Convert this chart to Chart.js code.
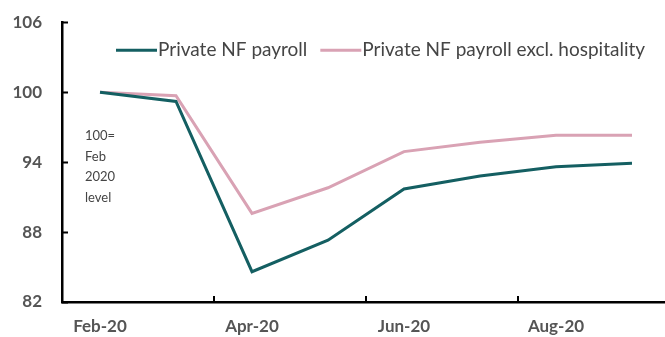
<!DOCTYPE html>
<html>
<head>
<meta charset="utf-8">
<script src="https://cdn.jsdelivr.net/npm/chart.js@4"></script>
<style>
  html, body { margin: 0; padding: 0; background: #fff; overflow: hidden; }
  #wrap { position: relative; width: 670px; height: 337px; }
</style>
</head>
<body>
<div id="wrap"><canvas id="payrollChart" width="670" height="337"></canvas></div>
<script>
// months on the x axis
var months = ['Feb-20', 'Mar-20', 'Apr-20', 'May-20', 'Jun-20', 'Jul-20', 'Aug-20', 'Sep-20'];
// index, 100 = Feb 2020 level
var privatePayroll = [100, 99.2, 84.6, 87.3, 91.7, 92.8, 93.6, 93.9];
var payrollExHospitality = [100, 99.7, 89.6, 91.8, 94.9, 95.7, 96.3, 96.3];
var yTicks = [82, 88, 94, 100, 106];

var textGrey = '#555555';
var font = 'Lato';

// short tick marks on the inside of both axes, the legend row inside the plot, and the note on the left
var axisMarks = {
    id: 'axisMarks',
    afterDraw: function (chart) {
        var ctx = chart.ctx;
        var area = chart.chartArea;
        var x = chart.scales.x;
        var y = chart.scales.y;
        ctx.save();
        ctx.strokeStyle = '#000';
        ctx.lineWidth = 2;
        ctx.beginPath();
        yTicks.forEach(function (v) {
            var py = Math.round(y.getPixelForValue(v)) + 0.5;
            ctx.moveTo(area.left, py);
            ctx.lineTo(area.left + 6, py);
        });
        for (var i = 2; i < months.length; i += 2) {
            var px = (x.getPixelForValue(i - 1) + x.getPixelForValue(i)) / 2;
            ctx.moveTo(px, area.bottom);
            ctx.lineTo(px, area.bottom - 6);
        }
        ctx.stroke();

        // legend
        ctx.font = '19px ' + font;
        ctx.textBaseline = 'middle';
        var lx = area.left + 54;
        var ly = area.top + 28;
        chart.data.datasets.forEach(function (ds) {
            ctx.strokeStyle = ds.borderColor;
            ctx.lineWidth = 3;
            ctx.beginPath();
            ctx.moveTo(lx, ly);
            ctx.lineTo(lx + 41, ly);
            ctx.stroke();
            lx += 42;
            ctx.fillStyle = '#454545';
            ctx.fillText(ds.label, lx, ly);
            lx += ctx.measureText(ds.label).width + 13;
        });

        ctx.fillStyle = '#454545';
        ctx.font = '13px ' + font;
        ['100=', 'Feb', '2020', 'level'].forEach(function (line, k) {
            ctx.fillText(line, area.left + 23, area.top + 114 + k * 20.5);
        });
        ctx.restore();
    }
};

var ctx = document.getElementById('payrollChart').getContext('2d');
new Chart(ctx, {
    type: 'line',
    data: {
        labels: months,
        datasets: [{
            label: 'Private NF payroll',
            data: privatePayroll,
            borderColor: '#145f62',
            borderWidth: 3,
            pointRadius: 0,
            tension: 0
        }, {
            label: 'Private NF payroll excl. hospitality',
            data: payrollExHospitality,
            borderColor: '#d9a2b4',
            borderWidth: 3,
            pointRadius: 0,
            tension: 0
        }]
    },
    options: {
        responsive: false,
        animation: false,
        layout: { padding: { top: 10, right: 0, bottom: 0, left: 0 } },
        plugins: {
            tooltip: { enabled: false },
            legend: { display: false }
        },
        scales: {
            x: {
                type: 'category',
                offset: true,
                grid: { display: false },
                border: { display: true, color: '#000', width: 2.5 },
                afterFit: function (scale) { scale.height = 35; },
                ticks: {
                    autoSkip: false,
                    maxRotation: 0,
                    padding: 6,
                    color: textGrey,
                    font: { family: font, size: 17, weight: 'bold' },
                    callback: function (value, index) {
                        return index % 2 === 0 ? months[index] : '';
                    }
                }
            },
            y: {
                min: 82,
                max: 106,
                grid: { display: false },
                border: { display: true, color: '#000', width: 2.5 },
                afterFit: function (scale) { scale.width = 62; },
                afterBuildTicks: function (scale) {
                    scale.ticks = yTicks.map(function (v) { return { value: v }; });
                },
                ticks: {
                    padding: 12,
                    color: textGrey,
                    font: { family: font, size: 17, weight: 'bold' }
                }
            }
        }
    },
    plugins: [axisMarks]
});
</script>
</body>
</html>
